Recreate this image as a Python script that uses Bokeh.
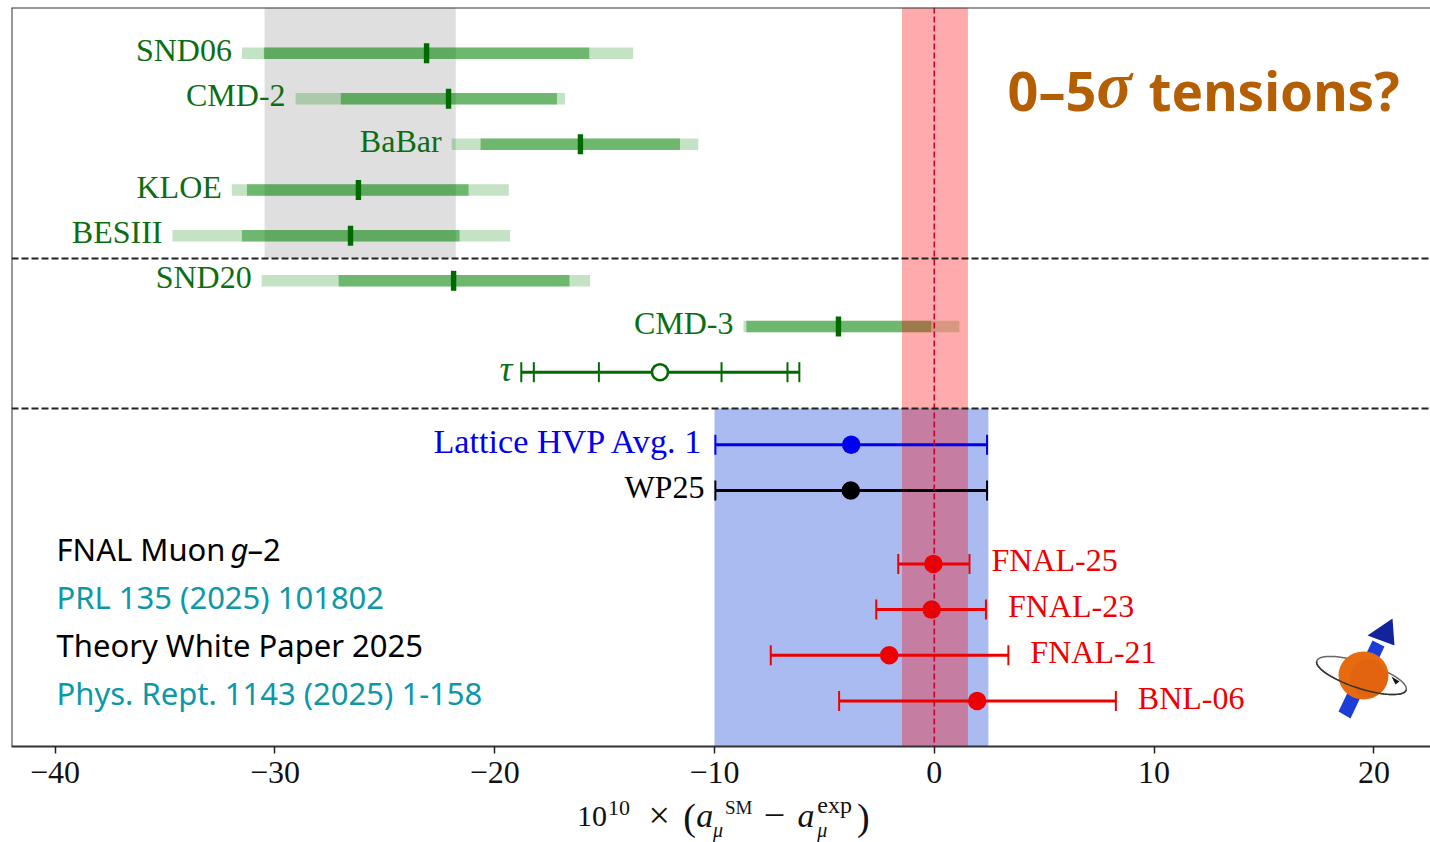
from bokeh.embed import file_html
from bokeh.resources import INLINE
from bokeh.plotting import figure
from bokeh.layouts import column
from bokeh.models import ColumnDataSource, FixedTicker, Span
from bokeh.core.properties import value
import numpy as np

# ---------- data ----------
ee_names = ["SND06", "CMD-2", "BaBar", "KLOE", "BESIII", "SND20", "CMD-3"]
ee_rows = [14.175, 13.18, 12.18, 11.18, 10.18, 9.195, 8.195]
ee_center = [-23.1, -22.1, -16.1, -26.2, -26.56, -21.87, -4.36]
ee_stat_lo = [-30.5, -27.0, -20.64, -31.27, -31.5, -27.1, -8.55]
ee_stat_hi = [-15.7, -17.17, -11.57, -21.19, -21.6, -16.6, -0.14]
ee_tot_lo = [-31.5, -29.06, -21.96, -31.96, -34.66, -30.6, -8.68]
ee_tot_hi = [-13.7, -16.8, -10.74, -19.36, -19.3, -15.66, 1.14]

tau_name = ["τ"]
tau_row = [7.195]
tau_center = [-12.48]
tau_ticks = [-18.79, -18.22, -15.26, -9.68, -6.68, -6.14]

th_names = ["Lattice HVP Avg. 1", "WP25"]
th_rows = [5.606, 4.606]
th_center = [-3.78, -3.8]
th_lo = [-9.96, -9.96]
th_hi = [2.4, 2.4]
th_colors = ["#0000ee", "#000000"]
th_sizes = ["34.2px", "32px"]

exp_names = ["FNAL-25", "FNAL-23", "FNAL-21", "BNL-06"]
exp_rows = [3, 2, 1, 0]
exp_center = [-0.04, -0.12, -2.05, 1.95]
exp_lo = [-1.64, -2.64, -7.44, -4.33]
exp_hi = [1.6, 2.35, 3.37, 8.26]

gray_band = [-30.47, -21.77]
gray_floor = 9.68
pink_band = [-1.47, 1.53]
blue_band = [-10.0, 2.46]
blue_ceil = 6.40
separators = [9.68, 6.40]
x_ticks = [-40, -30, -20, -10, 0, 10, 20]
x_tick_labels = ["−40", "−30", "−20", "−10", "0", "10", "20"]

# ---------- layout ----------
PX0, PXU = 933.8, 21.98     # page x of value 0, px per unit
PY0, PYU = 700.5, 45.7      # page y of row 0, px per row
X = lambda px: (px - PX0) / PXU
Y = lambda py: (PY0 - py) / PYU

W, H = 1430, 842
FRAME_L, FRAME_R, FRAME_T, FRAME_B = 11, 1430, 7, 746
SPLIT = 792
p = figure(width=W, height=SPLIT, output_backend="svg", toolbar_location=None,
           x_range=(X(FRAME_L), X(FRAME_R)), y_range=(Y(FRAME_B), Y(FRAME_T)),
           min_border_left=FRAME_L, min_border_right=0, min_border_top=FRAME_T,
           min_border_bottom=SPLIT - FRAME_B, background_fill_color="white",
           border_fill_color="white", outline_line_color=None)
p.grid.visible = False
p.yaxis.visible = False
ax = p.xaxis[0]
ax.ticker = FixedTicker(ticks=x_ticks)
ax.major_label_overrides = dict(zip(x_ticks, x_tick_labels))
ax.major_label_text_font = "Liberation Serif"
ax.major_label_text_font_size = "32px"
ax.major_label_text_color = "#111111"
ax.major_label_standoff = 8
ax.major_tick_in = 0
ax.major_tick_out = 7
ax.major_tick_line_color = "#222222"
ax.major_tick_line_width = 1.5
ax.minor_tick_line_color = None
ax.axis_line_color = "#333333"
ax.axis_line_width = 2

# strip under the axis that carries the axis title, in page pixels
q = figure(width=W, height=H - SPLIT, output_backend="svg", toolbar_location=None,
           x_range=(8, W + 8), y_range=(H, SPLIT), x_axis_type=None, y_axis_type=None,
           min_border=0, outline_line_color=None, background_fill_color="white",
           border_fill_color="white")
q.grid.visible = False

SERIF = "Liberation Serif"
SANS = "Noto Sans"
TEAL = "#0c98a8"
ORANGE = "#b55f05"
G_BAR = "#008000"
G_MARK = "#006a00"
G_TEXT = "#0c6e12"
RED = "#ee0000"
LW = 3
TXT_UP = -3.5

# bands
p.quad(left=[blue_band[0]], right=[blue_band[1]], bottom=[Y(FRAME_B)], top=[blue_ceil],
       fill_color="royalblue", fill_alpha=0.45, line_color=None)
p.quad(left=[gray_band[0]], right=[gray_band[1]], bottom=[gray_floor], top=[Y(FRAME_T)],
       fill_color="black", fill_alpha=0.125, line_color=None)

# e+e- bars
ee = ColumnDataSource(dict(name=ee_names, y=ee_rows, c=ee_center, sl=ee_stat_lo, sh=ee_stat_hi,
                           tl=ee_tot_lo, th=ee_tot_hi))
p.segment(x0="tl", x1="th", y0="y", y1="y", source=ee, line_color=G_BAR, line_alpha=0.23, line_width=11.5)
p.segment(x0="sl", x1="sh", y0="y", y1="y", source=ee, line_color=G_BAR, line_alpha=0.44, line_width=11.5)
p.rect(x="c", y="y", width=5.4, height=20, width_units="screen", height_units="screen",
       source=ee, fill_color=G_MARK, line_color=None)
p.text(x="tl", y="y", text="name", source=ee, text_font=value(SERIF), text_font_size="32px",
       text_color=G_TEXT, text_align="right", text_baseline="middle", x_offset=-10, y_offset=TXT_UP)

# tau
p.segment(x0=[tau_ticks[0]], x1=[tau_ticks[-1]], y0=tau_row, y1=tau_row, line_color=G_MARK, line_width=LW)
p.rect(x=tau_ticks, y=tau_row * len(tau_ticks), width=2, height=20, width_units="screen",
       height_units="screen", fill_color=G_MARK, line_color=None)
p.scatter(x=tau_center, y=tau_row, size=16, fill_color="white", line_color=G_MARK, line_width=2.6)
p.text(x=[tau_ticks[0]], y=tau_row, text=tau_name, text_font=value(SERIF), text_font_style="italic",
       text_font_size="36px", text_color=G_TEXT, text_align="right", text_baseline="middle",
       x_offset=-9, y_offset=TXT_UP)

# pink band and centre line
p.quad(left=[pink_band[0]], right=[pink_band[1]], bottom=[Y(FRAME_B)], top=[Y(FRAME_T)],
       fill_color="red", fill_alpha=0.33, line_color=None)
p.add_layout(Span(location=0, dimension="height", line_color="#c8002e", line_width=1.6, line_dash="6 3"))
for s in separators:
    p.add_layout(Span(location=s, dimension="width", line_color="#222222", line_width=2, line_dash="7 3"))

# theory
for n, y, c, lo, hi, col, fs in zip(th_names, th_rows, th_center, th_lo, th_hi, th_colors, th_sizes):
    p.segment(x0=[lo], x1=[hi], y0=[y], y1=[y], line_color=col, line_width=LW)
    p.rect(x=[lo, hi], y=[y, y], width=2, height=20, width_units="screen", height_units="screen",
           fill_color=col, line_color=None)
    p.scatter(x=[c], y=[y], size=18.5, fill_color=col, line_color=None)
    p.text(x=[lo], y=[y], text=[n], text_font=value(SERIF), text_font_size=fs, text_color=col,
           text_align="right", text_baseline="middle", x_offset=-11, y_offset=TXT_UP)

# experiments
ex = ColumnDataSource(dict(name=exp_names, y=exp_rows, c=exp_center, lo=exp_lo, hi=exp_hi))
p.segment(x0="lo", x1="hi", y0="y", y1="y", source=ex, line_color=RED, line_width=LW)
p.rect(x="lo", y="y", width=2, height=20, width_units="screen", height_units="screen", source=ex,
       fill_color=RED, line_color=None)
p.rect(x="hi", y="y", width=2, height=20, width_units="screen", height_units="screen", source=ex,
       fill_color=RED, line_color=None)
p.scatter(x="c", y="y", size=18.5, source=ex, fill_color=RED, line_color=None)
p.text(x="hi", y="y", text="name", source=ex, text_font=value(SERIF), text_font_size="32px",
       text_color=RED, text_align="left", text_baseline="middle", x_offset=22, y_offset=TXT_UP)


# free page texts; py is the baseline on the page, the anchor sits 0.42 em above it
def lbl(px, py, text, size, color="#000000", font=SERIF, style="normal"):
    p.text(x=[X(px)], y=[Y(py - 0.42 * size)], text=[text], text_font=value(font),
           text_font_size=f"{size}px", text_color=color, text_font_style=style,
           text_align="left", text_baseline="alphabetic")


def lbl2(px, py, text, size, color="#111111", style="normal"):
    q.text(x=[px], y=[py - 0.42 * size], text=[text], text_font=value(SERIF), text_font_size=f"{size}px",
           text_color=color, text_font_style=style, text_align="left", text_baseline="alphabetic")


# headline
lbl(1007, 112, "0–5", 54, ORANGE, SANS, "bold")
lbl(1096, 112, "σ", 66, ORANGE, SERIF, "bold italic")
lbl(1148, 112, "tensions?", 53, ORANGE, SANS, "bold")

# reference lines
lbl(56, 562, "FNAL Muon", 31, "#000000", SANS)
lbl(230, 562, "g", 31, "#000000", SANS, "italic")
lbl(247, 562, "–2", 31, "#000000", SANS)
lbl(56, 610, "PRL 135 (2025) 101802", 31, TEAL, SANS)
lbl(56, 658, "Theory White Paper 2025", 31, "#000000", SANS)
lbl(56, 706, "Phys. Rept. 1143 (2025) 1-158", 31, TEAL, SANS)

# axis title, set piece by piece
lbl2(578, 829, "10", 30)
lbl2(609, 817, "10", 22)
lbl2(650, 830, "×", 38)
lbl2(685, 832, "(", 38)
lbl2(698, 829, "a", 34, style="italic")
lbl2(727, 815, "SM", 19)
lbl2(715, 838, "μ", 20, style="italic")
lbl2(766, 831, "−", 38)
lbl2(800, 829, "a", 34, style="italic")
lbl2(820, 815, "exp", 24)
lbl2(820, 838, "μ", 20, style="italic")
lbl2(860, 832, ")", 38)

# frame edges
p.add_layout(Span(location=X(FRAME_L), dimension="height", line_color="#333333", line_width=2))
p.add_layout(Span(location=Y(FRAME_T), dimension="width", line_color="#333333", line_width=2))

# spinning muon icon
ICON_STEM_X = [X(v) for v in (1338, 1350, 1384, 1372)]
ICON_STEM_Y = [Y(v) for v in (711, 718, 646, 640)]
ICON_HEAD_X = [X(v) for v in (1367, 1392, 1394)]
ICON_HEAD_Y = [Y(v) for v in (635, 618, 645)]
p.patch(ICON_STEM_X, ICON_STEM_Y, fill_color="#1c3ed8", line_color=None)
p.patch(ICON_HEAD_X, ICON_HEAD_Y, fill_color="#12239c", line_color=None)
t = np.linspace(0, 2 * np.pi, 80)
ang = np.radians(18)
ox = 1361 + 47 * np.cos(t) * np.cos(ang) - 13 * np.sin(t) * np.sin(ang)
oy = 675 + 47 * np.cos(t) * np.sin(ang) + 13 * np.sin(t) * np.cos(ang)
p.line(X(ox), Y(oy), line_color="#666666", line_width=1.5)
p.ellipse(x=[X(1363)], y=[Y(675)], width=50, height=48, width_units="screen", height_units="screen",
          fill_color="#e66a10", line_color=None)
p.ellipse(x=[X(1368)], y=[Y(678)], width=38, height=38, width_units="screen", height_units="screen",
          fill_color="#d84d10", fill_alpha=0.22, line_color=None)
front = t < np.pi
p.line(X(ox[front]), Y(oy[front]), line_color="#333333", line_width=1.5)
p.patch([X(v) for v in (1391, 1399, 1395)], [Y(v) for v in (676, 681, 684)], fill_color="#111111", line_color=None)

page = column(p, q, spacing=0)
open("out.html", "w").write(file_html(page, INLINE))
